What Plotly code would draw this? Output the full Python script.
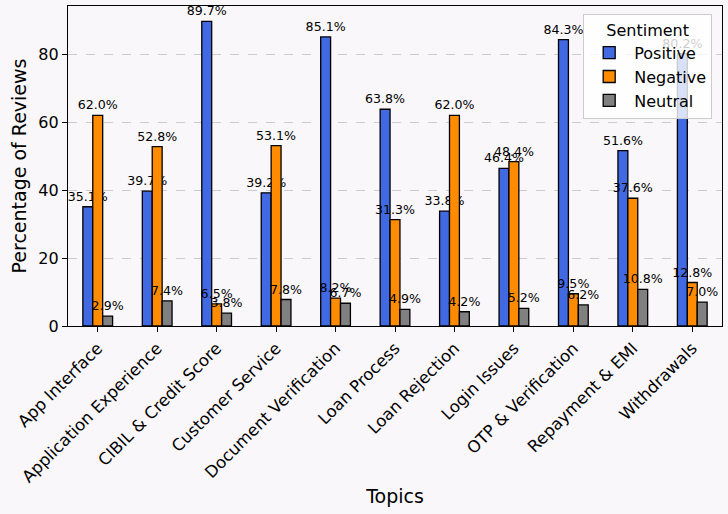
import plotly.graph_objects as go

topics = ["App Interface", "Application Experience", "CIBIL & Credit Score",
          "Customer Service", "Document Verification", "Loan Process",
          "Loan Rejection", "Login Issues", "OTP & Verification",
          "Repayment & EMI", "Withdrawals"]
positive = [35.1, 39.7, 89.7, 39.2, 85.1, 63.8, 33.8, 46.4, 84.3, 51.6, 80.2]
negative = [62.0, 52.8, 6.5, 53.1, 8.2, 31.3, 62.0, 48.4, 9.5, 37.6, 12.8]
neutral = [2.9, 7.4, 3.8, 7.8, 6.7, 4.9, 4.2, 5.2, 6.2, 10.8, 7.0]

series = [("Positive", positive, "#4169E1"),
          ("Negative", negative, "#FF8C00"),
          ("Neutral", neutral, "#808080")]

BG = "#f9f7f9"
FONT = "DejaVu Sans"

fig = go.Figure()
for name, vals, color in series:
    fig.add_trace(go.Bar(
        x=topics, y=vals, name=name,
        marker=dict(color=color, line=dict(color="black", width=1.3)),
        text=[f"{v:.1f}%" for v in vals],
        textposition="outside",
        constraintext="none",
        cliponaxis=False,
        textfont=dict(family=FONT, size=12.6, color="black"),
    ))

fig.update_layout(
    width=728, height=514,
    barmode="group", bargap=0.5, bargroupgap=0,
    paper_bgcolor=BG, plot_bgcolor=BG,
    margin=dict(l=68, r=6, t=6, b=188),
    font=dict(family=FONT, color="black"),
    legend=dict(
        title=dict(text="Sentiment", font=dict(size=16), side="top center"),
        font=dict(size=16),
        x=0.985, y=0.975, xanchor="right", yanchor="top",
        bgcolor="rgba(255,255,255,0.8)", bordercolor="#cccccc", borderwidth=1,
        itemwidth=40,
    ),
)
fig.update_xaxes(
    range=[-0.5, 10.5], tickangle=-45,
    tickfont=dict(size=16.5), ticks="outside", ticklen=5, tickcolor="black",
    showline=True, linecolor="black", linewidth=1.2, mirror=True,
    showgrid=False,
    title=dict(text="Topics", font=dict(size=19), standoff=4),
    automargin=False,
)
fig.update_yaxes(
    range=[0, 94.2], tickvals=[0, 20, 40, 60, 80],
    tickfont=dict(size=16), ticks="outside", ticklen=5, tickcolor="black",
    showline=True, linecolor="black", linewidth=1.2, mirror=True,
    showgrid=True, gridcolor="#cccccc", griddash="dash", gridwidth=1,
    zeroline=False,
    title=dict(text="Percentage of Reviews", font=dict(size=19), standoff=6),
    automargin=False,
)

fig.write_html("out.html")
